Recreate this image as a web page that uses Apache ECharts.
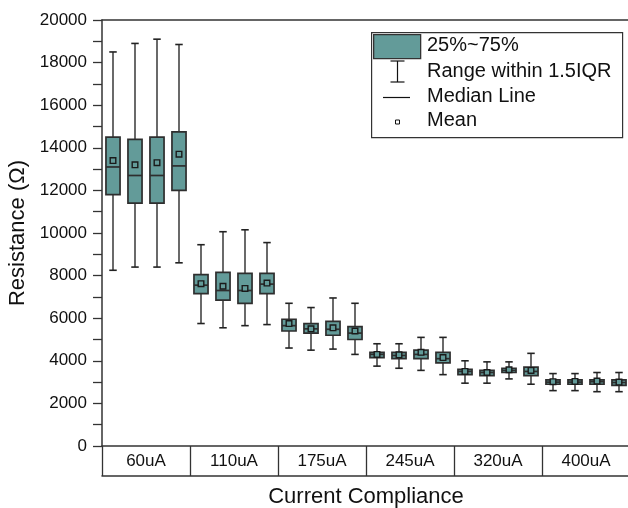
<!DOCTYPE html>
<html>
<head>
<meta charset="utf-8">
<script src="https://cdn.jsdelivr.net/npm/echarts@6/dist/echarts.min.js"></script>
<style>html,body{margin:0;padding:0;background:#fff}#c{width:628px;height:508px}</style>
</head>
<body>
<div id="c"></div>
<script>
var groups = ['60uA', '110uA', '175uA', '245uA', '320uA', '400uA'];
var slots = ['60uA-1','60uA-2','60uA-3','60uA-4','110uA-1','110uA-2','110uA-3','110uA-4',
  '175uA-1','175uA-2','175uA-3','175uA-4','245uA-1','245uA-2','245uA-3','245uA-4',
  '320uA-1','320uA-2','320uA-3','320uA-4','400uA-1','400uA-2','400uA-3','400uA-4'];
var whiskerLow  = [8250, 8400, 8400, 8600, 5750, 5550, 5650, 5700, 4600, 4500, 4550, 4300, 3750, 3650, 3550, 3350, 2950, 2950, 3150, 2900, 2600, 2600, 2550, 2550];
var q1          = [11800, 11400, 11400, 12000, 7150, 6850, 6700, 7150, 5400, 5300, 5200, 5000, 4150, 4100, 4100, 3900, 3350, 3300, 3450, 3300, 2900, 2900, 2900, 2850];
var median      = [13100, 12700, 12700, 13150, 7550, 7300, 7300, 7600, 5650, 5500, 5480, 5300, 4300, 4250, 4300, 4100, 3500, 3450, 3550, 3500, 3000, 3000, 3020, 2980];
var q3          = [14500, 14400, 14500, 14750, 8050, 8150, 8100, 8100, 5950, 5750, 5850, 5600, 4400, 4400, 4500, 4400, 3600, 3550, 3650, 3700, 3100, 3100, 3100, 3100];
var whiskerHigh = [18500, 18900, 19100, 18850, 9450, 10060, 10150, 9550, 6700, 6500, 6950, 6700, 4800, 4800, 5100, 5100, 4000, 3950, 3950, 4350, 3400, 3400, 3450, 3450];
var mean        = [13400, 13200, 13300, 13700, 7620, 7500, 7400, 7650, 5750, 5500, 5550, 5400, 4300, 4280, 4400, 4150, 3500, 3450, 3580, 3550, 3020, 3030, 3050, 3000];
var yTicks = [0, 2000, 4000, 6000, 8000, 10000, 12000, 14000, 16000, 18000, 20000];

var FILL = '#639b99', EDGE = '#2e2e2e', WH = '#444';
var FONT = 'Liberation Sans, Arial, sans-serif';

var data = slots.map(function (s, i) {
  return [i, whiskerLow[i], q1[i], median[i], q3[i], whiskerHigh[i], mean[i]];
});

function renderItem(params, api) {
  var x = api.value(0);
  var band = api.size([1, 0])[0];
  var half = band * 0.32, cap = band * 0.17;
  var pLow = api.coord([x, api.value(1)]);
  var pQ1 = api.coord([x, api.value(2)]);
  var pMed = api.coord([x, api.value(3)]);
  var pQ3 = api.coord([x, api.value(4)]);
  var pHigh = api.coord([x, api.value(5)]);
  var pMean = api.coord([x, api.value(6)]);
  var cx = pLow[0];
  var ls = {stroke: WH, lineWidth: 1.6};
  var children = [
    {type: 'line', shape: {x1: cx, y1: pLow[1], x2: cx, y2: pQ1[1]}, style: ls},
    {type: 'line', shape: {x1: cx, y1: pQ3[1], x2: cx, y2: pHigh[1]}, style: ls},
    {type: 'line', shape: {x1: cx - cap, y1: pLow[1], x2: cx + cap, y2: pLow[1]}, style: {stroke: '#222', lineWidth: 1.6}},
    {type: 'line', shape: {x1: cx - cap, y1: pHigh[1], x2: cx + cap, y2: pHigh[1]}, style: {stroke: '#222', lineWidth: 1.6}},
    {type: 'rect', shape: {x: cx - half, y: pQ3[1], width: 2 * half, height: pQ1[1] - pQ3[1]}, style: {fill: FILL, stroke: EDGE, lineWidth: 1.7}},
    {type: 'line', shape: {x1: cx - half, y1: pMed[1], x2: cx + half, y2: pMed[1]}, style: {stroke: EDGE, lineWidth: 1.7}},
    {type: 'rect', shape: {x: cx - 2.8, y: pMean[1] - 2.8, width: 5.6, height: 5.6}, style: {fill: FILL, stroke: '#1a1a1a', lineWidth: 1.4}}
  ];
  return {type: 'group', children: children};
}

var chart = echarts.init(document.getElementById('c'), null, {renderer: 'canvas'});
var axisLineStyle = {color: '#333', width: 1.5};
chart.setOption({
  animation: false,
  backgroundColor: '#fff',
  grid: {left: 102, top: 20, width: 528, height: 426, containLabel: false, outerBoundsMode: 'none'},
  xAxis: [
    {type: 'category', data: slots, position: 'bottom', boundaryGap: true,
     axisLine: {show: true, lineStyle: axisLineStyle}, axisTick: {show: false}, axisLabel: {show: false}, splitLine: {show: false}},
    {type: 'category', data: groups, position: 'bottom', boundaryGap: true,
     axisLine: {show: false}, axisTick: {show: true, length: 30, lineStyle: {color: '#333', width: 1.3}},
     axisLabel: {show: true, margin: 7, fontSize: 17, color: '#111', fontFamily: FONT}, splitLine: {show: false}},
    {type: 'category', data: groups, position: 'bottom', offset: 30, boundaryGap: true,
     axisLine: {show: true, lineStyle: axisLineStyle}, axisTick: {show: false}, axisLabel: {show: false},
     name: 'Current Compliance', nameLocation: 'middle', nameGap: 10,
     nameTextStyle: {fontSize: 22, color: '#111', fontFamily: FONT, verticalAlign: 'top'}},
    {type: 'category', data: groups, position: 'top',
     axisLine: {show: true, lineStyle: axisLineStyle}, axisTick: {show: false}, axisLabel: {show: false}}
  ],
  yAxis: {
    type: 'value', min: 0, max: 20000, interval: 1000,
    axisLine: {show: true, lineStyle: axisLineStyle},
    axisTick: {show: true, length: 9, lineStyle: {color: '#333', width: 1.3}},
    splitLine: {show: false},
    axisLabel: {margin: 15, fontSize: 17, color: '#111', fontFamily: FONT,
      formatter: function (v) { return yTicks.indexOf(v) >= 0 ? String(v) : ''; }},
    name: 'Resistance (\u03A9)', nameLocation: 'middle', nameGap: 69, nameRotate: 90,
    nameTextStyle: {fontSize: 22, color: '#111', fontFamily: FONT}
  },
  series: [{
    type: 'custom', xAxisIndex: 0, yAxisIndex: 0, renderItem: renderItem,
    encode: {x: 0, y: [1, 2, 3, 4, 5, 6]}, data: data, clip: false
  }],
  graphic: [
    {type: 'rect', left: 371, top: 32, shape: {width: 251, height: 105}, style: {fill: '#fff', stroke: '#333', lineWidth: 1.2}, z: 100},
    {type: 'rect', left: 373, top: 34, shape: {width: 47, height: 24}, style: {fill: FILL, stroke: '#333', lineWidth: 1.3}, z: 101},
    {type: 'text', left: 427, top: 35, style: {text: '25%~75%', font: '20px ' + FONT, fill: '#111'}, z: 101},
    {type: 'line', shape: {x1: 397.5, y1: 61, x2: 397.5, y2: 82}, style: {stroke: '#111', lineWidth: 1.2}, z: 101},
    {type: 'line', shape: {x1: 390.5, y1: 61, x2: 404.5, y2: 61}, style: {stroke: '#111', lineWidth: 1.2}, z: 101},
    {type: 'line', shape: {x1: 390.5, y1: 82, x2: 404.5, y2: 82}, style: {stroke: '#111', lineWidth: 1.2}, z: 101},
    {type: 'text', left: 427, top: 61, style: {text: 'Range within 1.5IQR', font: '20px ' + FONT, fill: '#111'}, z: 101},
    {type: 'line', shape: {x1: 383, y1: 97.5, x2: 410, y2: 97.5}, style: {stroke: '#111', lineWidth: 1.2}, z: 101},
    {type: 'text', left: 427, top: 86, style: {text: 'Median Line', font: '20px ' + FONT, fill: '#111'}, z: 101},
    {type: 'rect', shape: {x: 395.5, y: 120, width: 4, height: 4}, style: {fill: '#fff', stroke: '#111', lineWidth: 1}, z: 101},
    {type: 'text', left: 427, top: 110, style: {text: 'Mean', font: '20px ' + FONT, fill: '#111'}, z: 101}
  ]
});
</script>
</body>
</html>
